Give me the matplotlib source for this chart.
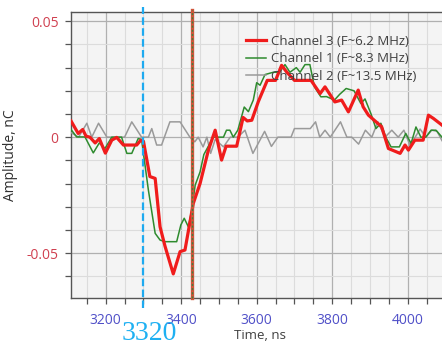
import numpy as np
import matplotlib
matplotlib.use('Agg')
import matplotlib.pyplot as plt
from matplotlib.ticker import MultipleLocator

# data (time in ns, amplitude in nC)
t3 = [3108, 3127, 3139, 3148, 3158, 3172, 3183, 3199, 3216, 3229, 3247, 3282, 3293, 3300,
      3317, 3331, 3344, 3357, 3379, 3397, 3410, 3432, 3450, 3472, 3490, 3507, 3519, 3547,
      3564, 3575, 3587, 3604, 3628, 3650, 3666, 3680, 3700, 3744, 3768, 3781, 3807, 3825,
      3843, 3869, 3882, 3896, 3931, 3949, 3980, 3993, 4002, 4019, 4041, 4055, 4068, 4091]
ch3 = [0.0070, 0.0016, 0.0033, 0.0004, 0.0000, -0.0025, -0.0006, -0.0069, -0.0013, -0.0001,
       -0.0034, -0.0034, -0.0013, -0.0018, -0.0170, -0.0178, -0.0387, -0.0470, -0.0590, -0.0494,
       -0.0487, -0.0286, -0.0200, -0.0056, 0.0030, -0.0099, -0.0039, -0.0039, 0.0085, 0.0070,
       0.0073, 0.0152, 0.0245, 0.0245, 0.0310, 0.0280, 0.0245, 0.0245, 0.0188, 0.0217, 0.0152,
       0.0160, 0.0109, 0.0203, 0.0131, 0.0095, 0.0045, -0.0049, -0.0070, -0.0034, -0.0056,
       -0.0013, -0.0013, 0.0095, 0.0081, 0.0052]

t1 = [3108, 3123, 3145, 3167, 3183, 3198, 3216, 3242, 3256, 3269, 3286, 3295, 3313, 3331,
      3344, 3357, 3388, 3399, 3408, 3419, 3428, 3437, 3450, 3460, 3485, 3512, 3520, 3529,
      3538, 3550, 3567, 3578, 3591, 3600, 3609, 3622, 3644, 3660, 3675, 3688, 3705, 3715,
      3728, 3741, 3753, 3770, 3785, 3806, 3820, 3837, 3858, 3876, 3887, 3903, 3916, 3929,
      3942, 3956, 3978, 3995, 4009, 4022, 4035, 4048, 4062, 4075, 4091]
ch1 = [0.0033, 0.0001, 0.0001, -0.0068, -0.0025, -0.0049, 0.0000, 0.0000, -0.0070, -0.0070,
       -0.0006, -0.0010, -0.0228, -0.0415, -0.0444, -0.0451, -0.0451, -0.0379, -0.0350, -0.0387,
       -0.0315, -0.0207, -0.0150, -0.0075, 0.0000, 0.0000, 0.0030, 0.0030, 0.0000, 0.0030,
       0.0130, 0.0110, 0.0160, 0.0235, 0.0224, 0.0270, 0.0280, 0.0280, 0.0313, 0.0280, 0.0300,
       0.0280, 0.0313, 0.0313, 0.0217, 0.0174, 0.0175, 0.0160, 0.0185, 0.0210, 0.0200, 0.0145,
       0.0165, 0.0100, 0.0037, 0.0060, 0.0000, -0.0042, -0.0042, 0.0016, -0.0027, 0.0044,
       0.0000, 0.0000, 0.0030, 0.0030, 0.0000]

t2 = [3108, 3128, 3150, 3163, 3181, 3203, 3250, 3269, 3286, 3295, 3313, 3322, 3335, 3348,
      3370, 3397, 3423, 3436, 3445, 3458, 3468, 3478, 3490, 3512, 3530, 3550, 3569, 3590,
      3621, 3639, 3656, 3691, 3700, 3742, 3756, 3767, 3781, 3795, 3822, 3839, 3852, 3870,
      3888, 3905, 3921, 3940, 3958, 3975, 3990, 4006, 4020, 4033, 4048, 4064, 4078, 4091]
ch2 = [0.0020, 0.0000, 0.0060, 0.0000, 0.0060, 0.0000, 0.0000, 0.0066, 0.0023, 0.0000,
       0.0000, 0.0037, -0.0034, -0.0034, 0.0066, 0.0066, 0.0000, -0.0020, 0.0000, -0.0042,
       0.0000, -0.0070, -0.0010, -0.0042, 0.0000, 0.0000, 0.0030, -0.0070, 0.0025, -0.0040,
       0.0000, 0.0000, 0.0037, 0.0037, 0.0066, 0.0000, 0.0030, 0.0000, 0.0066, 0.0000,
       0.0000, -0.0030, 0.0030, 0.0000, 0.0066, 0.0000, 0.0030, 0.0000, 0.0030, -0.0034,
       0.0000, 0.0035, 0.0000, 0.0030, 0.0025, -0.0015]

labels = ['Channel 3 (F~6.2 MHz)', 'Channel 1 (F~8.3 MHz)', 'Channel 2 (F~13.5 MHz)']
marker_t = 3298      # blue dashed marker
marker_label = '3320'
peak_t = 3428        # red/green marker

plt.rcParams['font.family'] = ['Open Sans', 'DejaVu Sans']

fig = plt.figure(figsize=(4.42, 3.44), dpi=100)
ax = fig.add_axes([71/442, 1-298/344, 1-71/442, 286/344])
ax.set_facecolor('#f4f4f4')

ax.plot(t3, ch3, color='#f01c1c', lw=2.3, label=labels[0], zorder=5)
ax.plot(t1, ch1, color='#2e8b2e', lw=1.1, label=labels[1], zorder=4)
ax.plot(t2, ch2, color='#9a9a9a', lw=1.1, label=labels[2], zorder=3)

# vertical markers
ax.plot([marker_t, marker_t], [-0.035, 1.018], transform=ax.get_xaxis_transform(),
        color='#1eaaf0', lw=1.6, dashes=(3.4, 1.5), clip_on=False, zorder=6)
ax.plot([peak_t, peak_t], [0, 1.007], transform=ax.get_xaxis_transform(),
        color='#d0553a', lw=2.4, clip_on=False, zorder=6)
ax.plot([peak_t, peak_t], [0, 1.007], transform=ax.get_xaxis_transform(),
        color='#3f7f3f', lw=1.0, dashes=(1.5, 1.5), clip_on=False, zorder=7)

ax.set_xlim(3108, 4091)
ax.set_ylim(-0.0694, 0.054)
ax.xaxis.set_major_locator(MultipleLocator(200))
ax.xaxis.set_minor_locator(MultipleLocator(50))
ax.yaxis.set_major_locator(MultipleLocator(0.05))
ax.yaxis.set_minor_locator(MultipleLocator(0.01))
ax.set_yticks([-0.05, 0, 0.05])
ax.set_yticklabels(['-0.05', '0', '0.05'])

ax.grid(which='major', color='#b0b0b0', lw=0.9)
ax.grid(which='minor', color='#dcdcdc', lw=0.8)
ax.set_axisbelow(True)

for s in ['left', 'bottom', 'top']:
    ax.spines[s].set_color('#555555')
    ax.spines[s].set_linewidth(1.0)
ax.spines['right'].set_visible(False)

ax.tick_params(which='both', direction='out', length=4, color='#555555', width=0.9)
ax.tick_params(axis='x', which='major', labelsize=10, labelcolor='#5050c8', pad=7)
ax.tick_params(axis='y', which='major', labelsize=10, labelcolor='#d04050', pad=5)

ax.set_xlabel('Time, ns', fontsize=9.5, color='#404040')
ax.xaxis.set_label_coords((260-71)/371, -(329-298)/286)
ax.set_ylabel('Amplitude, nC', fontsize=10, color='#303030')
ax.yaxis.set_label_coords(-(71-18)/371, 0.5)

fig.text(149/442, 1-333/344, marker_label, fontsize=20, color='#1eb0f2',
         family='Liberation Serif', ha='center', va='center')

leg = ax.legend(loc='upper left', bbox_to_anchor=((246-71)/371, 0.921), frameon=False,
                fontsize=9.5, handlelength=1.5, handletextpad=0.4, labelspacing=0.35,
                borderpad=0, borderaxespad=0)
for txt in leg.get_texts():
    txt.set_color('#404040')
leg.set_zorder(8)

fig.savefig('out.png', dpi=100)
